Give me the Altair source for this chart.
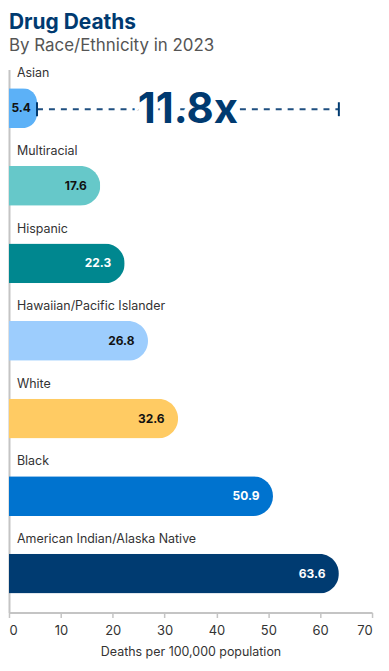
import altair as alt
import pandas as pd

categories = ["Asian", "Multiracial", "Hispanic", "Hawaiian/Pacific Islander",
              "White", "Black", "American Indian/Alaska Native"]
values = [5.4, 17.6, 22.3, 26.8, 32.6, 50.9, 63.6]
bar_colors = ["#5cb1f7", "#66c8c9", "#00878f", "#9dcdfd", "#ffcb63", "#0073cf", "#003b71"]
label_colors = ["#111111", "#111111", "#ffffff", "#111111", "#111111", "#ffffff", "#ffffff"]

ratio_low = 5.4
ratio_high = 63.6
ratio_text = "11.8x"
ratio_row = "Asian"

x_ticks = [0, 10, 20, 30, 40, 50, 60, 70]

df = pd.DataFrame({"category": categories, "value": values,
                   "bar_color": bar_colors, "label_color": label_colors})
ann = pd.DataFrame({"category": [ratio_row], "low": [ratio_low], "high": [ratio_high],
                    "label": [ratio_text]})
ends = pd.DataFrame({"category": [ratio_row, ratio_row], "x": [ratio_low, ratio_high]})

FONT = "Inter"
NAVY = "#003a70"

y_enc = alt.Y("category:N", sort=categories,
              scale=alt.Scale(paddingInner=0, paddingOuter=0),
              axis=alt.Axis(title=None, labels=False, ticks=False, domain=True,
                            domainColor="#c4c4c4", domainWidth=2))
x_scale = alt.Scale(domain=[0, 70], nice=False)
x_axis = alt.Axis(values=x_ticks, title="Deaths per 100,000 population", grid=False,
                  domainColor="#c4c4c4", domainWidth=2, tickColor="#c4c4c4", tickSize=5,
                  tickWidth=1.5, labelFont=FONT, labelFontSize=13, labelColor="#333333",
                  labelPadding=7, titleFont=FONT, titleFontSize=12.5, titleFontWeight="normal",
                  titleColor="#333333", titlePadding=8)

base = alt.Chart(df)

bars = base.mark_bar(height=40, cornerRadiusEnd=20).encode(
    x=alt.X("value:Q", scale=x_scale, axis=x_axis),
    y=y_enc,
    color=alt.Color("bar_color:N", scale=None),
)

cat_labels = base.mark_text(align="left", baseline="alphabetic", dx=8, dy=-31,
                            font=FONT, fontSize=12.5, color="#333333").encode(
    x=alt.datum(0, scale=x_scale),
    y=alt.Y("category:N", sort=categories),
    text="category:N",
)

val_labels = base.transform_calculate(
    lx="datum.value < 10 ? datum.value - 1.2 : datum.value - 2.6"
).mark_text(align="right", baseline="middle", font=FONT, fontSize=12,
            fontWeight="bold").encode(
    x=alt.X("lx:Q", scale=x_scale),
    y=alt.Y("category:N", sort=categories),
    text=alt.Text("value:Q", format=".1f"),
    color=alt.Color("label_color:N", scale=None),
)

ann_base = alt.Chart(ann)
dash = ann_base.mark_rule(strokeDash=[6, 6], strokeWidth=2, color="#1f4f80", yOffset=1).encode(
    x=alt.X("low:Q", scale=x_scale),
    x2="high:Q",
    y=alt.Y("category:N", sort=categories),
)
end_ticks = alt.Chart(ends).mark_tick(orient="vertical", size=14, thickness=2,
                                      color=NAVY, opacity=1, yOffset=1).encode(
    x=alt.X("x:Q", scale=x_scale),
    y=alt.Y("category:N", sort=categories),
)
ratio_halo = ann_base.transform_calculate(mid="(datum.low + datum.high) / 2").mark_text(
    align="center", baseline="alphabetic", dy=15, font=FONT, fontSize=42,
    fontWeight="bold", stroke="white", strokeWidth=10, color="white").encode(
    x=alt.X("mid:Q", scale=x_scale),
    y=alt.Y("category:N", sort=categories),
    text="label:N",
)
ratio_txt = ann_base.transform_calculate(mid="(datum.low + datum.high) / 2").mark_text(
    align="center", baseline="alphabetic", dy=15, font=FONT, fontSize=42,
    fontWeight="bold", color=NAVY).encode(
    x=alt.X("mid:Q", scale=x_scale),
    y=alt.Y("category:N", sort=categories),
    text="label:N",
)

chart = alt.layer(bars, cat_labels, val_labels, dash, end_ticks, ratio_halo, ratio_txt).properties(
    width=365, height=546,
    padding={"left": 0, "top": 2, "right": 8, "bottom": 5},
    title=alt.TitleParams("Drug Deaths", subtitle="By Race/Ethnicity in 2023",
                          anchor="start", frame="group", font=FONT, fontSize=21,
                          fontWeight="bold", color=NAVY, subtitleFont=FONT,
                          subtitleFontSize=17, subtitleColor="#555555",
                          subtitlePadding=5, offset=14),
).configure_view(stroke=None)

chart.save("out.html", embed_options={"renderer": "svg", "actions": False})
